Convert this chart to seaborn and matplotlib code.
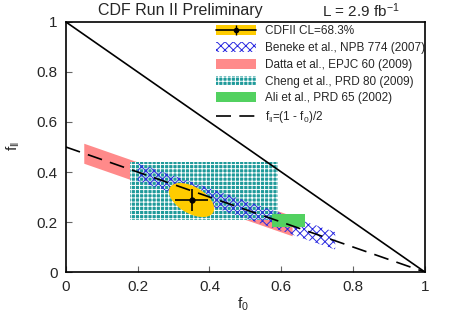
import numpy as np
import matplotlib
matplotlib.use('Agg')
import matplotlib.pyplot as plt
import seaborn as sns
from matplotlib.patches import Patch
from matplotlib.lines import Line2D
from matplotlib.legend_handler import HandlerTuple

# ── Data ──────────────────────────────────────────────────────
# CDFII measurement: central value, 1D errors, 68.3% CL contour
cdf_f0, cdf_fpar = 0.35, 0.288
cdf_f0_err, cdf_fpar_err = 0.047, 0.045
ell_hx, ell_hy, ell_rho = 0.063, 0.068, -0.5

# Datta et al. band (ends of the band, lower / upper edge)
datta_f0 = [0.05, 0.63]
datta_lo = [0.435, 0.145]
datta_hi = [0.515, 0.225]

# Beneke et al. band
beneke_f0 = [0.20, 0.75]
beneke_lo = [0.365, 0.09]
beneke_hi = [0.435, 0.16]

# Cheng et al. box
cheng_f0 = [0.18, 0.59]
cheng_lo = [0.21, 0.21]
cheng_hi = [0.44, 0.44]

# Ali et al. box
ali_f0 = [0.575, 0.665]
ali_lo = [0.182, 0.182]
ali_hi = [0.231, 0.231]

# reference lines
phys_f0 = [0.0, 1.0]
phys_fpar = [1.0, 0.0]          # f0 + fpar = 1
half_f0 = [0.0, 1.0]
half_fpar = [0.5, 0.0]          # fpar = (1 - f0)/2

ticks = [0, 0.2, 0.4, 0.6, 0.8, 1]
tick_labels = ["0", "0.2", "0.4", "0.6", "0.8", "1"]

GOLD = "#ffcc00"
RED = "#ff8a8a"
TEAL = "#1f9a9a"
BLUE = "#2a2ae0"
GREEN = "#52d160"

# ── Style ─────────────────────────────────────────────────────
sns.set_style("ticks")
plt.rcParams['font.family'] = ['Liberation Sans', 'DejaVu Sans']
plt.rcParams['mathtext.default'] = 'regular'
plt.rcParams['hatch.linewidth'] = 0.7

fig = plt.figure(figsize=(4.57, 3.22), dpi=100)
ax = fig.add_axes([0.144, 0.155, 0.786, 0.777])

# ── Bands / boxes ─────────────────────────────────────────────
ax.fill_between(datta_f0, datta_lo, datta_hi, color=RED, lw=0, zorder=1)
ax.fill_between(cheng_f0, cheng_lo, cheng_hi, facecolor=TEAL, edgecolor="white",
                hatch="++++", lw=0, zorder=2)
ax.fill_between(beneke_f0, beneke_lo, beneke_hi, facecolor="none", edgecolor=BLUE,
                hatch="xxxx", lw=0, zorder=3)
ax.fill_between(ali_f0, ali_lo, ali_hi, color=GREEN, lw=0, zorder=4)

# CDF contour
t = np.linspace(0, 2 * np.pi, 200)
ex = cdf_f0 + ell_hx * np.cos(t)
ey = cdf_fpar + ell_hy * (ell_rho * np.cos(t) + np.sqrt(1 - ell_rho ** 2) * np.sin(t))
ax.fill(ex, ey, color=GOLD, lw=0, zorder=5)
ax.errorbar([cdf_f0], [cdf_fpar], xerr=[cdf_f0_err], yerr=[cdf_fpar_err],
            fmt='o', color='black', ms=3.5, lw=1.2, capsize=0, zorder=7)

# lines
sns.lineplot(x=phys_f0, y=phys_fpar, color='black', lw=1.2, ax=ax, zorder=6)
sns.lineplot(x=half_f0, y=half_fpar, color='black', lw=1.2, ax=ax, zorder=6,
             dashes=False).lines[-1].set_dashes((9, 5))

# ── Axes ──────────────────────────────────────────────────────
ax.set_xlim(0, 1)
ax.set_ylim(0, 1)
ax.set_xticks(ticks, tick_labels)
ax.set_yticks(ticks, tick_labels)
ax.tick_params(direction='in', length=4, width=0.8, labelsize=11, pad=6,
               color='#666666')
for s in ax.spines.values():
    s.set_linewidth(1.2)
    s.set_color('black')
ax.set_xlabel("")
ax.set_ylabel("")

fig.text(0.532, 0.055, "f$_0$", fontsize=11, ha='center', va='center')
fig.text(0.03, 0.545, r"f$_{\Vert}$", fontsize=11, ha='center', va='center',
         rotation=90)

fig.text(0.394, 0.968, "CDF Run II Preliminary", fontsize=11.5, ha='center', va='center')
fig.text(0.705, 0.968, "L = 2.9 fb$^{-1}$", fontsize=11, ha='left', va='center')

# ── Legend ────────────────────────────────────────────────────
h_cdf = (Patch(facecolor=GOLD, lw=0),
         Line2D([], [], color='black', lw=1.2, marker='|', ms=7),
         Line2D([], [], color='black', lw=0, marker='o', ms=3))
h_ben = Patch(facecolor='none', edgecolor=BLUE, hatch='xxxx', lw=0)
h_dat = Patch(facecolor=RED, lw=0)
h_che = Patch(facecolor=TEAL, edgecolor='white', hatch='++++', lw=0)
h_ali = Patch(facecolor=GREEN, lw=0)
h_lin = Line2D([], [], color='black', lw=1.2, dashes=(9, 5))

labels = ["CDFII CL=68.3%", "Beneke et al., NPB 774 (2007)", "Datta et al., EPJC 60 (2009)",
          "Cheng et al., PRD 80 (2009)", "Ali et al., PRD 65 (2002)", r"f$_{\Vert}$=(1 - f$_0$)/2"]
fig.legend([h_cdf, h_ben, h_dat, h_che, h_ali, h_lin], labels,
           loc='upper left', bbox_to_anchor=(0.473, 0.921), frameon=False,
           fontsize=8.5, handlelength=3.4, handleheight=0.9, handletextpad=0.7,
           labelspacing=0.4, borderpad=0, borderaxespad=0,
           handler_map={tuple: HandlerTuple(ndivide=1, pad=0)})

fig.savefig("out.png", dpi=100)
